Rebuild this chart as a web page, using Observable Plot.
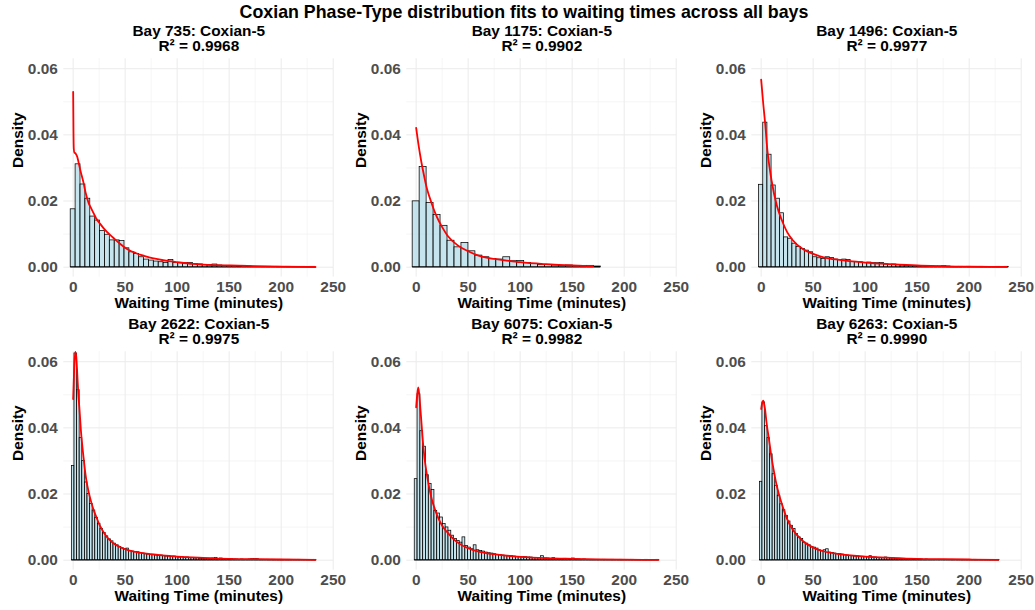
<!DOCTYPE html>
<html><head><meta charset="utf-8">
<script src="https://cdn.jsdelivr.net/npm/d3@7"></script>
<script src="https://cdn.jsdelivr.net/npm/@observablehq/plot@0.6"></script>
<style>
body{margin:0;background:#fff;font-family:"Liberation Sans",Arial,sans-serif;}
#title{box-sizing:border-box;width:1035px;height:20px;padding-top:4px;padding-left:13px;text-align:center;font-weight:bold;font-size:17.8px;line-height:17px;color:#000;white-space:nowrap;}
#grid{position:relative;width:1035px;height:590px;}
.cell{position:absolute;}
</style></head><body>
<div id="title">Coxian Phase-Type distribution fits to waiting times across all bays</div>
<div id="grid"></div>
<script>
// ---- data ----
const bays = ["735", "1175", "1496", "2622", "6075", "6263"];
const models = ["Coxian-5", "Coxian-5", "Coxian-5", "Coxian-5", "Coxian-5", "Coxian-5"];
const r2 = ["0.9968", "0.9902", "0.9977", "0.9975", "0.9982", "0.9990"];
const binWidth = [4.7, 6.7, 4, 2.5, 2.7, 2.45];

const density735 = [0.0175,0.0311,0.0250,0.0207,0.0153,0.0141,0.0109,0.0098,0.0081,0.0081,0.0079,0.0057,0.0045,0.0040,0.0030,0.0023,0.0020,0.0017,0.0015,0.0013,0.0022,0.0013,0.0012,0.0013,0.0013,0.0009,0.0008,0.0007,0.0006,0.0008,0.0005,0.0004,0.0003,0.0003,0.0002,0.0004,0.0002,0.0001,0.0001,0.0001,0.0001,0,0.0001,0,0.0001,0,0,0.0001,0,0.0001];
const density1175 = [0.0199,0.0303,0.0194,0.0158,0.0125,0.0080,0.0060,0.0073,0.0048,0.0035,0.0030,0.0025,0.0023,0.0030,0.0018,0.0019,0.0013,0.0010,0.0007,0.0007,0.0005,0.0004,0.0005,0.0004,0.0004,0.0004,0.0002];
const density1496 = [0.0249,0.0437,0.0340,0.0247,0.0207,0.0163,0.0090,0.0086,0.0071,0.0061,0.0055,0.0050,0.0045,0.0030,0.0027,0.0025,0.0030,0.0028,0.0023,0.0022,0.0023,0.0022,0.0016,0.0015,0.0015,0.0013,0.0014,0.0012,0.0012,0.0013,0.0008,0.0007,0.0008,0.0006,0.0005,0.0004,0.0004,0.0003,0.0003,0.0003,0.0002,0.0002,0.0002,0.0002,0.0003,0.0002,0.0001,0.0001,0.0001,0,0.0001,0,0,0.0001,0,0,0,0.0001,0,0.0001];
const density2622 = [0.0285,0.0625,0.0514,0.0369,0.0300,0.0235,0.0200,0.0170,0.0150,0.0128,0.0110,0.0094,0.0082,0.0072,0.0063,0.0057,0.0050,0.0045,0.0040,0.0036,0.0033,0.0035,0.0028,0.0026,0.0025,0.0024,0.0021,0.0020,0.0018,0.0017,0.0016,0.0015,0.0014,0.0013,0.0014,0.0012,0.0011,0.0011,0.0010,0.0011,0.0009,0.0008,0.0009,0.0007,0.0008,0.0006,0.0007,0.0005,0.0006,0.0004,0.0004,0.0003,0.0004,0.0003,0.0005,0.0007,0.0004,0.0005,0.0003,0.0003,0.0002,0.0003,0.0002,0.0002,0.0001,0.0002,0.0001,0.0001,0.0002,0.0003,0.0003,0.0003,0.0001,0.0001,0,0.0001,0,0.0001,0,0,0.0001,0,0,0.0001,0,0,0,0.0001,0,0,0,0,0,0.0001];
const density6075 = [0.0245,0.0502,0.0390,0.0343,0.0257,0.0230,0.0212,0.0149,0.0141,0.0129,0.0109,0.0099,0.0089,0.0074,0.0064,0.0058,0.0053,0.0069,0.0043,0.0038,0.0033,0.0045,0.0030,0.0028,0.0026,0.0023,0.0021,0.0020,0.0018,0.0016,0.0015,0.0014,0.0013,0.0012,0.0012,0.0011,0.0010,0.0010,0.0009,0.0009,0.0008,0.0008,0.0007,0.0007,0.0006,0.0012,0.0005,0.0005,0.0004,0.0006,0.0004,0.0003,0.0003,0.0004,0.0003,0.0002,0.0005,0.0002,0.0002,0.0001,0.0002,0.0001,0.0001,0.0001,0,0.0001,0,0.0001,0,0,0.0001,0,0,0.0001,0,0,0,0.0001,0,0,0,0,0.0001,0,0,0,0.0001];
const density6263 = [0.0237,0.0477,0.0405,0.0369,0.0320,0.0260,0.0225,0.0195,0.0169,0.0151,0.0134,0.0117,0.0104,0.0094,0.0079,0.0069,0.0064,0.0053,0.0050,0.0045,0.0040,0.0038,0.0035,0.0030,0.0028,0.0030,0.0033,0.0023,0.0022,0.0020,0.0019,0.0018,0.0017,0.0015,0.0014,0.0013,0.0012,0.0011,0.0011,0.0010,0.0010,0.0009,0.0009,0.0012,0.0008,0.0008,0.0007,0.0007,0.0006,0.0008,0.0006,0.0005,0.0005,0.0004,0.0004,0.0003,0.0004,0.0003,0.0003,0.0004,0.0002,0.0003,0.0002,0.0002,0.0001,0.0002,0.0001,0.0001,0.0001,0,0.0001,0,0.0001,0,0,0.0001,0,0,0,0.0001,0,0,0,0,0.0001,0,0,0,0,0,0,0,0,0.0001];

const fitX735 = [0,0.3,0.6,1.2,2,2.5,4,5,7,10,12,15,17,20,22,26,30,36,40,45,50,54,60,65,73,80,92,100,115,125,151,175,200,233];
const fitY735 = [0.053,0.041,0.0358,0.0346,0.0345,0.0343,0.0333,0.0320,0.0292,0.0255,0.0225,0.0193,0.0180,0.0161,0.0148,0.0131,0.0115,0.0096,0.0085,0.0071,0.0059,0.0051,0.0043,0.0037,0.0030,0.0025,0.0018,0.0015,0.0010,0.0008,0.0005,0.0003,0.00015,0.00005];
const fitX1175 = [0,2.5,5,7.5,10,15,20,25,30,40,50,60,75,87,100,125,150,170];
const fitY1175 = [0.0421,0.0365,0.0318,0.0278,0.0242,0.0192,0.0151,0.0121,0.0096,0.0066,0.0048,0.0035,0.0025,0.0020,0.0015,0.0009,0.0005,0.0003];
const fitX1496 = [0,2,4,6,8,10,15,20,25,30,40,50,60,75,100,125,150,175,200,236];
const fitY1496 = [0.0567,0.0494,0.0429,0.0353,0.0303,0.0262,0.0187,0.0141,0.0106,0.0083,0.0055,0.0040,0.0030,0.0022,0.0014,0.0009,0.0005,0.0003,0.00015,0.0001];
const fitX2622 = [0,1,2,3,4,5,6,7.5,10,12.5,15,17.5,20,22.5,25,27.5,30,35,40,45,50,60,75,100,125,150,175,200,233];
const fitY2622 = [0.0487,0.058,0.063,0.0615,0.056,0.050,0.046,0.039,0.031,0.0245,0.0205,0.0174,0.0149,0.0129,0.0109,0.0094,0.0081,0.0061,0.0048,0.0040,0.0033,0.0025,0.0018,0.0011,0.0007,0.0004,0.0003,0.0002,0.0001];
const fitX6075 = [0,1,2,3,4,5,6,8,10,12.5,15,17.5,20,25,30,35,40,50,60,75,100,125,150,175,200,233];
const fitY6075 = [0.0462,0.050,0.0522,0.050,0.046,0.042,0.0376,0.031,0.0265,0.022,0.0184,0.0159,0.0137,0.0104,0.0084,0.0067,0.0053,0.0036,0.0026,0.0018,0.0010,0.0006,0.0004,0.00025,0.00015,0.0001];
const fitX6263 = [0,1,2,3,4,5,7.5,10,12.5,15,17.5,20,25,30,35,40,50,60,75,100,125,150,175,200,228];
const fitY6263 = [0.0457,0.0475,0.0482,0.047,0.045,0.042,0.0366,0.031,0.0265,0.0225,0.0195,0.0169,0.0124,0.0094,0.0074,0.0058,0.0038,0.0027,0.0018,0.0011,0.0007,0.0004,0.0003,0.0002,0.0001];

const xMajor = [0, 50, 100, 150, 200, 250];
const xMinor = [25, 75, 125, 175, 225];
const yMajor = [0, 0.02, 0.04, 0.06];
const yMinor = [0.01, 0.03, 0.05];

const densities = [density735, density1175, density1496, density2622, density6075, density6263];
const fitXs = [fitX735, fitX1175, fitX1496, fitX2622, fitX6075, fitX6263];
const fitYs = [fitY735, fitY1175, fitY1496, fitY2622, fitY6075, fitY6263];

// ---- drawing ----
const FONT = '"Liberation Sans", Arial, sans-serif';
function panel(i) {
  const w = binWidth[i];
  const bars = densities[i].map((d, k) => ({x1: k * w - w / 2, x2: k * w + w / 2, y: d}));
  const fit = fitXs[i].map((x, k) => ({x, y: fitYs[i][k]}));
  return Plot.plot({
    width: 345, height: 293,
    marginTop: 38.3, marginBottom: 36.4, marginLeft: 63.3, marginRight: 11.7,
    style: {fontFamily: FONT, fontSize: "15.4px", fontWeight: "bold", background: "transparent", overflow: "visible"},
    x: {domain: [-9, 250.6], label: null},
    y: {domain: [-0.003, 0.063], label: null},
    marks: [
      Plot.ruleY(yMinor, {stroke: "#ebebeb", strokeWidth: 0.5}),
      Plot.ruleX(xMinor, {stroke: "#ebebeb", strokeWidth: 0.5}),
      Plot.ruleY(yMajor, {stroke: "#ebebeb", strokeWidth: 1}),
      Plot.ruleX(xMajor, {stroke: "#ebebeb", strokeWidth: 1}),
      Plot.rect(bars, {x1: "x1", x2: "x2", y1: 0, y2: "y", fill: "lightblue", fillOpacity: 0.7, stroke: "black", strokeWidth: 0.75}),
      Plot.ruleY(bars, {y: 0, x1: "x1", x2: "x2", stroke: "black", strokeWidth: 0.75}),
      Plot.line(fit, {x: "x", y: "y", stroke: "red", strokeWidth: 1.8, curve: "monotone-x"}),
      Plot.axisX({ticks: xMajor, tickSize: 0, tickPadding: 3.5, color: "#4d4d4d", label: null}),
      Plot.axisY({ticks: yMajor, tickFormat: d => d.toFixed(2), tickSize: 0, tickPadding: 6, color: "#4d4d4d", label: null}),
      Plot.text([`Bay ${bays[i]}: ${models[i]}`], {frameAnchor: "top", lineAnchor: "middle", dy: -27.8, fill: "black"}),
      Plot.text([`R² = ${r2[i]}`], {frameAnchor: "top", lineAnchor: "middle", dy: -12.3, fill: "black"}),
      Plot.text(["Density"], {frameAnchor: "left", lineAnchor: "middle", rotate: -90, dx: -45.8, fill: "black"}),
      Plot.text(["Waiting Time (minutes)"], {frameAnchor: "bottom", lineAnchor: "middle", dy: 26, fill: "black"})
    ]
  });
}

const grid = document.getElementById("grid");
const lefts = [0, 343, 688];
const tops = [0, 293];
for (let i = 0; i < 6; i++) {
  const cell = document.createElement("div");
  cell.className = "cell";
  cell.style.left = lefts[i % 3] + "px";
  cell.style.top = tops[Math.floor(i / 3)] + "px";
  cell.appendChild(panel(i));
  grid.appendChild(cell);
}
</script>
</body></html>
